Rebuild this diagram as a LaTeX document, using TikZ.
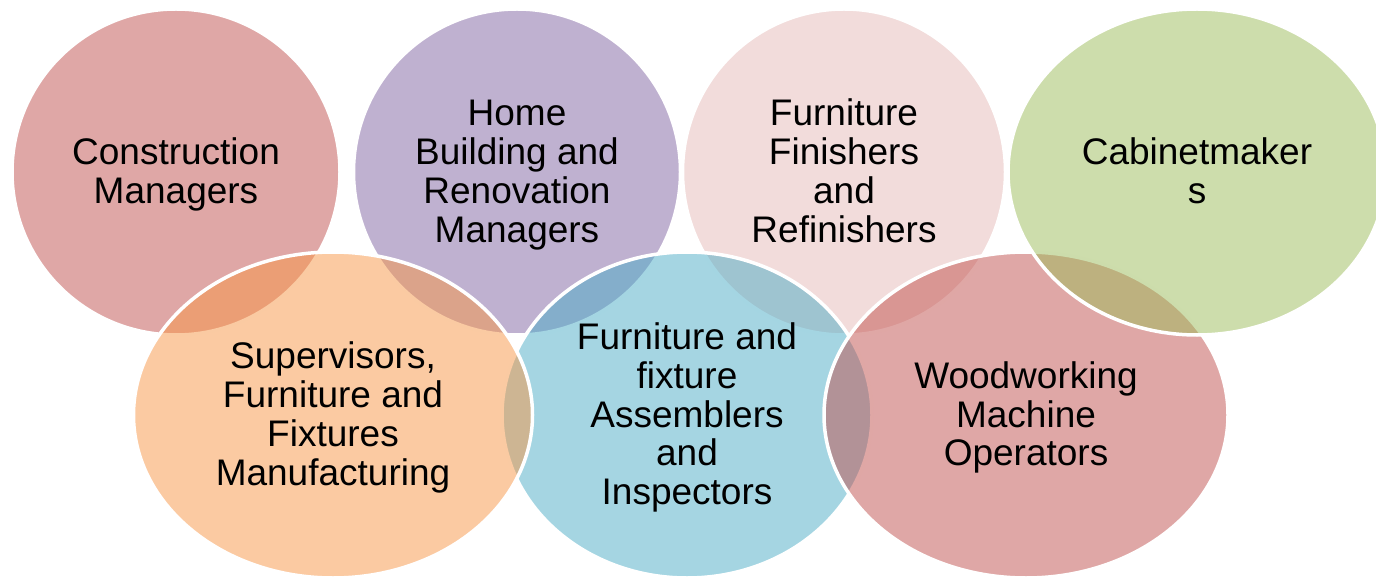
\documentclass[tikz,border=0pt]{standalone}
\usepackage{fontspec}
\setmainfont{Liberation Sans}
\usetikzlibrary{shapes.geometric}
\definecolor{cRed}{HTML}{C0504D}
\definecolor{cPurple}{HTML}{8064A2}
\definecolor{cPink}{HTML}{E5B9B7}
\definecolor{cOrange}{HTML}{F79646}
\definecolor{cBlue}{HTML}{4BACC6}
\definecolor{cGreen}{HTML}{9BBB59}
\newcommand\myvennfont{\fontsize{37}{38.7}\selectfont}
\newcommand\myTop{\rule{0pt}{33pt}}
\newcommand\myBot{\rule[-9pt]{0pt}{0pt}}
\tikzset{
  venn/.style={ellipse, draw=white, line width=3.5pt, fill opacity=0.5,
    text opacity=1, draw opacity=1, inner sep=0pt, outer sep=0pt,
    align=center, font=\myvennfont, text=black},
}
\begin{document}
\begin{tikzpicture}[x=1pt,y=-1pt]
\useasboundingbox (0,0) rectangle (1376,577);
\clip (0,0) rectangle (1376,577);
\node[venn, fill=cRed, minimum width=328pt, minimum height=326pt] (cm) at (176,172) {\myTop Construction\\Managers\myBot};
\node[venn, fill=cPurple, minimum width=327pt, minimum height=326pt] (hb) at (517,172) {\myTop Home\\Building and\\Renovation\\Managers\myBot};
\node[venn, fill=cPink, minimum width=323pt, minimum height=326pt] (ff) at (844,172) {\myTop Furniture\\Finishers\\and\\Refinishers\myBot};
\node[venn, fill=cBlue, minimum width=370pt, minimum height=326pt] (fa) at (687,415) {\myTop Furniture and\\fixture\\Assemblers\\and\\Inspectors\myBot};
\node[venn, fill=cOrange, minimum width=399pt, minimum height=326pt] (sv) at (333,415) {\myTop Supervisors,\\Furniture and\\Fixtures\\Manufacturing\myBot};
\node[venn, fill=cRed, minimum width=404pt, minimum height=326pt] (wm) at (1026,415) {\myTop Woodworking\\Machine\\Operators\myBot};
\node[venn, fill=cGreen, minimum width=378pt, minimum height=326pt] (cb) at (1197,172) {\myTop Cabinetmaker\\s\myBot};
\end{tikzpicture}
\end{document}
